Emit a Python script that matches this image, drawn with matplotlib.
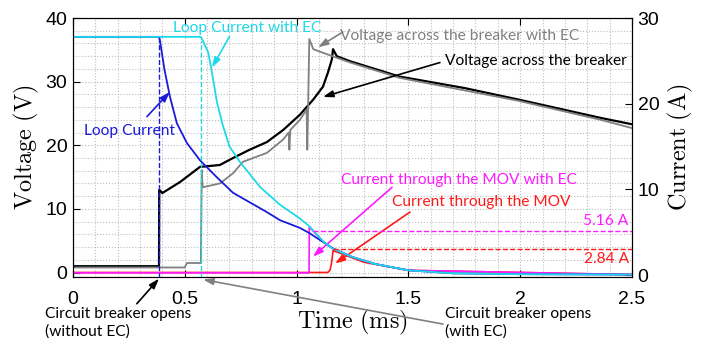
"""Breaker opening test: voltage across the breaker and loop / MOV currents."""

import matplotlib

matplotlib.use("Agg")
import matplotlib.pyplot as plt
from matplotlib.ticker import FuncFormatter, MultipleLocator

# ---- data (time in ms) ----
t_loop = [0, 0.385, 0.389, 0.41, 0.434, 0.465, 0.51, 0.568, 0.644, 0.716,
          0.867, 0.926, 1.015, 1.057, 1.163, 1.25, 1.35, 1.5, 1.7, 2.0, 2.5]
i_loop = [27.8, 27.8, 27.4, 23.9, 20.8, 17.7, 15.4, 13.4, 11.4, 9.6,
          7.35, 6.4, 5.5, 4.9, 3.1, 2.1, 1.3, 0.55, 0.2, 0.1, 0.05]

t_loop_ec = [0, 0.572, 0.58, 0.605, 0.62, 0.644, 0.67, 0.70, 0.747, 0.836,
             0.926, 1.015, 1.057, 1.12, 1.16, 1.25, 1.35, 1.5, 1.7, 2.0, 2.5]
i_loop_ec = [27.8, 27.8, 27.4, 26.0, 23.9, 20.2, 17.5, 15.0, 13.2, 10.3,
             8.2, 6.6, 5.7, 3.9, 3.1, 2.1, 1.3, 0.55, 0.2, 0.1, 0.05]

t_mov = [0, 1.14, 1.15, 1.155, 1.16, 1.163, 1.2, 1.3, 1.5, 2.5]
i_mov = [0.3, 0.3, 0.6, 1.2, 2.1, 2.84, 2.5, 1.5, 0.55, 0.05]

t_mov_ec = [0, 1.056, 1.057, 1.12, 1.16, 1.25, 1.35, 1.5, 2.5]
i_mov_ec = [0.25, 0.25, 5.6, 3.9, 3.1, 2.1, 1.3, 0.55, 0.05]

t_v = [0, 0.385, 0.386, 0.4, 0.478, 0.568, 0.657, 0.716, 0.79, 0.867, 0.94,
       1.015, 1.075, 1.118, 1.14, 1.158, 1.163, 1.18, 1.24, 1.46, 1.75, 1.99,
       2.36, 2.5]
v_brk = [1.0, 1.0, 13.0, 12.5, 14.2, 16.6, 16.9, 18.0, 19.3, 20.5, 22.4,
         24.8, 27.2, 29.2, 31.4, 33.5, 35.1, 34.0, 33.2, 30.8, 29.0, 27.2,
         24.3, 23.3]

t_v_ec = [0, 0.5, 0.51, 0.572, 0.576, 0.58, 0.657, 0.716, 0.76, 0.867, 0.94,
          0.965, 0.968, 0.972, 1.015, 1.045, 1.048, 1.052, 1.057, 1.075, 1.16,
          1.24, 1.46, 1.99, 2.36, 2.5]
v_brk_ec = [0.8, 0.8, 1.5, 1.5, 16.1, 13.4, 14.0, 15.6, 17.4, 18.8, 20.9,
            22.0, 19.3, 22.4, 24.0, 25.6, 19.3, 26.5, 36.7, 35.1, 34.0,
            33.0, 30.6, 27.0, 24.0, 22.7]

t_open = 0.385
t_open_ec = 0.572
i_peak_mov = 2.84
i_peak_mov_ec = 5.16

CYAN = "#1fd8e8"
BLUE = "#1a1adb"
GRAY = "#808080"
MAGENTA = "#ff1aff"
RED = "#ff1a1a"

plt.rcParams["mathtext.fontset"] = "cm"
TICK_FONT = "Liberation Sans"
NOTE_FONT = "Lato"
NOTE_SIZE = 11.2
ARROW = "-|>,head_length=0.6,head_width=0.2"

fig = plt.figure(figsize=(7.01, 3.43), dpi=100)
ax = fig.add_axes([0.104, 0.1924, 0.7976, 0.7551])
ax2 = ax.twinx()

# voltage on the left axis
ax.plot(t_v, v_brk, color="black", lw=1.6)
ax.plot(t_v_ec, v_brk_ec, color=GRAY, lw=1.3)

# currents on the right axis
ax2.plot(t_mov, i_mov, color=RED, lw=1.2)
ax2.plot(t_mov_ec, i_mov_ec, color=MAGENTA, lw=1.2)
ax2.plot(t_loop, i_loop, color=BLUE, lw=1.3)
ax2.plot(t_loop_ec, i_loop_ec, color=CYAN, lw=1.3)
ax2.plot([t_open, t_open], [-0.3, i_loop[0]], color=BLUE, lw=1, ls="--")
ax2.plot([t_open_ec, t_open_ec], [-0.3, i_loop_ec[0] - 0.5], color=CYAN, lw=1, ls="--")
ax2.hlines(i_peak_mov_ec, 1.075, 2.5, color=MAGENTA, lw=1, ls="--")
ax2.hlines(i_peak_mov + 0.2, 1.165, 2.5, color=RED, lw=1, ls="--")
ax2.text(2.485, i_peak_mov_ec + 0.35, f"{i_peak_mov_ec:.2f} A", color=MAGENTA,
         ha="right", va="bottom", fontsize=NOTE_SIZE, family=NOTE_FONT)
ax2.text(2.485, i_peak_mov - 0.15, f"{i_peak_mov:.2f} A", color=RED,
         ha="right", va="top", fontsize=NOTE_SIZE, family=NOTE_FONT)

ax.set_xlim(0, 2.5)
ax.set_ylim(-0.7, 40)
ax2.set_ylim(-0.23, 30)

ax.xaxis.set_major_locator(MultipleLocator(0.5))
ax.xaxis.set_minor_locator(MultipleLocator(0.1))
ax.yaxis.set_major_locator(MultipleLocator(10))
ax.yaxis.set_minor_locator(MultipleLocator(2))
ax2.yaxis.set_major_locator(MultipleLocator(10))
ax.xaxis.set_major_formatter(FuncFormatter(lambda v, p: f"{v:g}"))

ax.grid(which="both", color="#bdbdbd", ls=":", lw=0.8)
ax.set_axisbelow(True)
ax.tick_params(which="major", direction="in", length=5, top=True, labelsize=14)
ax.tick_params(which="minor", length=0)
ax.tick_params(axis="x", pad=10)
ax.tick_params(axis="y", pad=4)
ax2.tick_params(direction="in", length=5, labelsize=14, pad=4)
for lab in ax.get_xticklabels() + ax.get_yticklabels() + ax2.get_yticklabels():
    lab.set_family(TICK_FONT)

ax.set_xlabel(r"$\mathrm{Time\ (ms)}$", fontsize=17.5, labelpad=0)
ax.set_ylabel(r"$\mathrm{Voltage\ (V)}$", fontsize=17.5, labelpad=3)
ax2.set_ylabel(r"$\mathrm{Current\ (A)}$", fontsize=17.5, labelpad=5)

# ---- annotations: (text, colour, text pos, ha, arrow tail, arrow head) ----
notes = [
    ("Loop Current with EC", CYAN, (0.778, 38.5), "center", (0.70, 37.1), (0.622, 32.2)),
    ("Loop Current", BLUE, (0.255, 22.3), "center", (0.331, 24.5), (0.434, 28.4)),
    ("Voltage across the breaker with EC", GRAY, (1.194, 37.1), "left", (1.207, 37.8), (1.096, 35.4)),
    ("Voltage across the breaker", "black", (1.664, 33.2), "left", (1.641, 33.0), (1.118, 27.6)),
    ("Current through the MOV with EC", MAGENTA, (1.199, 14.5), "left", (1.427, 13.4), (1.073, 2.5)),
    ("Current through the MOV", RED, (1.427, 11.1), "left", (1.507, 9.5), (1.172, 1.4)),
]
for text, col, pos, ha, tail, head in notes:
    ax.text(pos[0], pos[1], text, color=col, ha=ha, va="center",
            fontsize=NOTE_SIZE, family=NOTE_FONT)
    ax.annotate("", xy=head, xytext=tail,
                arrowprops=dict(arrowstyle=ARROW, color=col, lw=1.2,
                                shrinkA=0, shrinkB=0))

ax.text(-0.125, -7.9, "Circuit breaker opens\n(without EC)", ha="left", va="center",
        fontsize=NOTE_SIZE, family=NOTE_FONT, linespacing=1.3, clip_on=False)
ax.annotate("", xy=(t_open, -0.95), xytext=(0.286, -4.9), annotation_clip=False,
            arrowprops=dict(arrowstyle=ARROW, color="black", lw=1.2,
                            shrinkA=0, shrinkB=0))
ax.text(1.664, -7.9, "Circuit breaker opens\n(with EC)", ha="left", va="center",
        fontsize=NOTE_SIZE, family=NOTE_FONT, linespacing=1.3, clip_on=False)
ax.annotate("", xy=(t_open_ec + 0.01, -1.1), xytext=(1.655, -8.1), annotation_clip=False,
            arrowprops=dict(arrowstyle=ARROW, color=GRAY, lw=1.2,
                            shrinkA=0, shrinkB=0))

fig.savefig("out.png", dpi=100)
